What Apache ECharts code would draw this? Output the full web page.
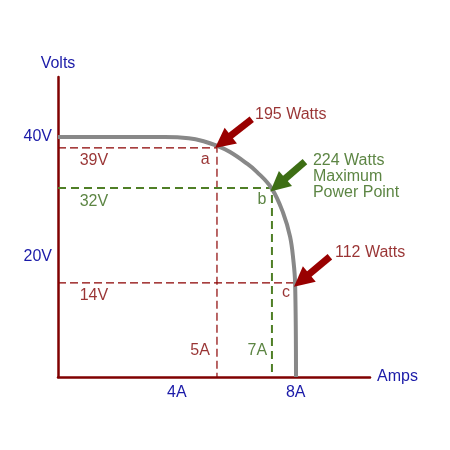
<!DOCTYPE html>
<html>
<head>
<meta charset="utf-8">
<script src="https://cdn.jsdelivr.net/npm/echarts@6/dist/echarts.min.js"></script>
<style>
html, body { margin: 0; padding: 0; background: #fff; }
#chart { width: 450px; height: 450px; }
</style>
</head>
<body>
<div id="chart"></div>
<script>
// I-V curve (amps, volts)
var curveAmps  = [0, 3.6, 4.4, 4.9, 5.34, 5.79, 6.35, 6.69, 7.19, 7.58, 7.81, 7.92, 7.98, 8.01];
var curveVolts = [40, 40, 39.8, 39.3, 38.55, 37.5, 35.6, 34.2, 31.45, 27.3, 23.4, 19.5, 15.6, 0];

// operating points a, b, c
var pointNames = ['a', 'b', 'c'];
var pointAmps  = [5.35, 7.2, 7.98];
var pointVolts = [38.2, 31.5, 15.7];

// arrows: tail -> tip
var arrowFrom = [[6.52, 42.95], [8.31, 35.9], [9.15, 20.05]];
var arrowTo   = [[5.55, 39.2], [7.4, 32.0], [8.2, 16.1]];

// text notes
var redNotes   = ['39V', '14V', 'a', 'c', '5A'];
var redX       = [1.21, 1.21, 4.95, 7.67, 4.78];
var redY       = [36.05, 13.5, 36.2, 14.0, 4.33];
var greenNotes = ['32V', 'b', '7A'];
var greenX     = [1.21, 6.86, 6.71];
var greenY     = [29.2, 29.5, 4.33];
var wattNotes  = ['195 Watts', '224 Watts\nMaximum\nPower Point', '112 Watts'];
var wattX      = [6.63, 8.58, 9.32];
var wattY      = [43.7, 33.4, 20.7];

var xTicks = [4, 8];
var yTicks = [20, 40];

var RED = '#800000', GREEN = '#336614', BLUE = '#1a1aa8';
var FONT = 'Liberation Sans, Arial, sans-serif';

function pairs(xs, ys) {
    return xs.map(function (x, i) { return [x, ys[i]]; });
}

var myChart = echarts.init(document.getElementById('chart'));

// dashed guide lines for each point
var guideSeries = pointNames.map(function (n, i) {
    var green = (n === 'b');
    return {
        type: 'line',
        data: [[0, pointVolts[i]], [pointAmps[i], pointVolts[i]], [pointAmps[i], 0]],
        symbol: 'none',
        silent: true,
        z: 2,
        lineStyle: {
            color: green ? '#4f7f26' : '#8b0000',
            width: green ? 2 : 1.2,
            type: green ? [8, 5] : [8, 4]
        }
    };
});

function noteSeries(texts, xs, ys, color, align) {
    return {
        type: 'scatter',
        symbolSize: 0,
        silent: true,
        z: 5,
        data: texts.map(function (t, i) { return { name: t, value: [xs[i], ys[i]] }; }),
        label: {
            show: true,
            position: 'inside',
            align: align,
            formatter: '{b}',
            color: color,
            fontFamily: FONT,
            fontSize: 16,
            lineHeight: 16
        }
    };
}

var wattSeries = noteSeries(wattNotes, wattX, wattY, RED, 'left');
// the middle watt note is green
wattSeries.data[1].label = { color: GREEN };

var option = {
    animation: false,
    grid: { left: 58, right: 80, top: 77, bottom: 73 },
    xAxis: {
        type: 'value',
        min: 0,
        max: 10.5,
        interval: 4,
        name: 'Amps',
        nameLocation: 'end',
        nameGap: 7,
        nameTextStyle: { color: BLUE, fontSize: 16, fontFamily: FONT },
        axisLine: { show: true, lineStyle: { color: RED, width: 2.5 } },
        axisTick: { show: false },
        splitLine: { show: false },
        axisLabel: {
            customValues: xTicks,
            formatter: function (v) { return v + 'A'; },
            color: BLUE, fontSize: 16, fontFamily: FONT, margin: 8
        }
    },
    yAxis: {
        type: 'value',
        min: 0,
        max: 50,
        interval: 10,
        name: 'Volts',
        nameLocation: 'end',
        nameGap: 5,
        nameTextStyle: { color: BLUE, fontSize: 16, fontFamily: FONT, align: 'center' },
        axisLine: { show: true, lineStyle: { color: RED, width: 2.5 } },
        axisTick: { show: false },
        splitLine: { show: false },
        axisLabel: {
            customValues: yTicks,
            formatter: function (v) { return v + 'V'; },
            color: BLUE, fontSize: 16, fontFamily: FONT, margin: 6
        }
    },
    series: guideSeries.concat([
        {
            type: 'line',
            data: pairs(curveAmps, curveVolts),
            smooth: 0.4,
            symbol: 'none',
            silent: true,
            z: 3,
            lineStyle: { color: '#888888', width: 4 }
        },
        {
            type: 'lines',
            coordinateSystem: 'cartesian2d',
            silent: true,
            z: 4,
            symbol: ['none', 'triangle'],
            symbolSize: [0, 20],
            data: arrowFrom.map(function (f, i) {
                var c = i === 1 ? '#3d6e14' : '#990000';
                return { coords: [f, arrowTo[i]], lineStyle: { color: c } };
            }),
            lineStyle: { width: 7, opacity: 1, curveness: 0 }
        },
        noteSeries(redNotes, redX, redY, RED, 'center'),
        noteSeries(greenNotes, greenX, greenY, GREEN, 'center'),
        wattSeries
    ])
};

myChart.setOption(option);
</script>
</body>
</html>
